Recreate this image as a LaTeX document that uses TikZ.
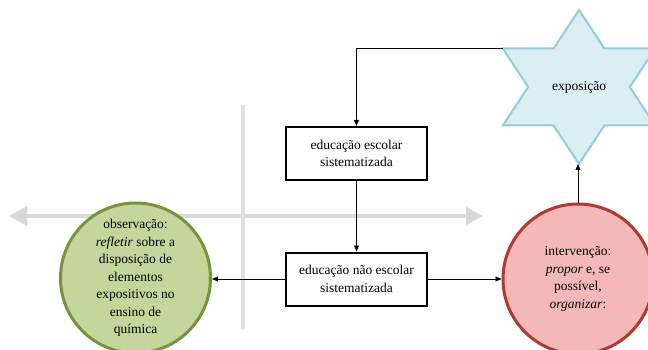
\documentclass[tikz,border=0pt]{standalone}
\usepackage{fontspec}
\setmainfont{Liberation Serif}
\usetikzlibrary{arrows.meta}
\definecolor{axisgray}{HTML}{D9D9D9}
\definecolor{starfill}{HTML}{DAEEF3}
\definecolor{stardraw}{HTML}{92CDDC}
\definecolor{greenfill}{HTML}{C3D69B}
\definecolor{greendraw}{HTML}{77933C}
\definecolor{redfill}{HTML}{F5B8B9}
\definecolor{reddraw}{HTML}{B03A2E}
\tikzset{
  txt/.style={font=\fontsize{13.5}{17.5}\selectfont, align=center, inner sep=0pt},
  edubox/.style={txt, draw=black, line width=2pt, fill=white, minimum width=141pt, minimum height=53pt},
  conn/.style={draw=black, line width=0.8pt, -{Triangle[length=6pt,width=5pt]}},
  axis/.style={draw=axisgray, line width=4.5pt},
  bigcircle/.style={txt, circle, line width=3pt, minimum size=150pt}
}
\begin{document}
\begin{tikzpicture}[x=1pt,y=-1pt]
\useasboundingbox (0,0) rectangle (648,350);
% axes
\coordinate (axL) at (9,216);
\coordinate (axR) at (483,216);
\coordinate (axT) at (243,105);
\coordinate (axB) at (243,329);
\draw[axis, {Triangle[length=18pt,width=19pt]}-{Triangle[length=17pt,width=17pt]}] (axL) -- (axR);
\draw[axis, draw=axisgray!80] (axT) -- (axB);
% star
\draw[fill=starfill, draw=stardraw, line width=2pt, line join=miter]
  (579,10) -- (604.4,48.5) -- (655.2,48.5) -- (629.8,87) -- (655.2,125.5) -- (604.4,125.5)
  -- (579,164) -- (553.6,125.5) -- (502.8,125.5) -- (528.2,87) -- (502.8,48.5) -- (553.6,48.5) -- cycle;
\coordinate (starUL) at (502.8,48.5);
\coordinate (starB) at (579,164);
\node[txt] (star) at (579,87) {exposição};
% boxes
\node[edubox] (box1) at (356.5,153.5) {educação escolar\\sistematizada};
\node[edubox] (box2) at (356.5,279) {educação não escolar\\sistematizada};
% circles
\node[bigcircle, fill=greenfill, draw=greendraw] (green) at (135.5,278)
  {observação:\\\textit{refletir} sobre a\\disposição de\\elementos\\expositivos no\\ensino de\\química};
\node[bigcircle, fill=redfill, draw=reddraw] (red) at (578,279)
  {intervenção:\\\textit{propor} e, se\\possível,\\\textit{organizar}:};
% connectors
\draw[conn] (starUL) -| (box1.north);
\draw[conn] (box1.south) -- (box2.north);
\draw[conn] (box2.west) -- (box2.west -| green.east);
\draw[conn] (box2.east) -- (box2.east -| red.west);
\draw[conn] (red.north) -- (red.north |- starB);
\end{tikzpicture}
\end{document}
